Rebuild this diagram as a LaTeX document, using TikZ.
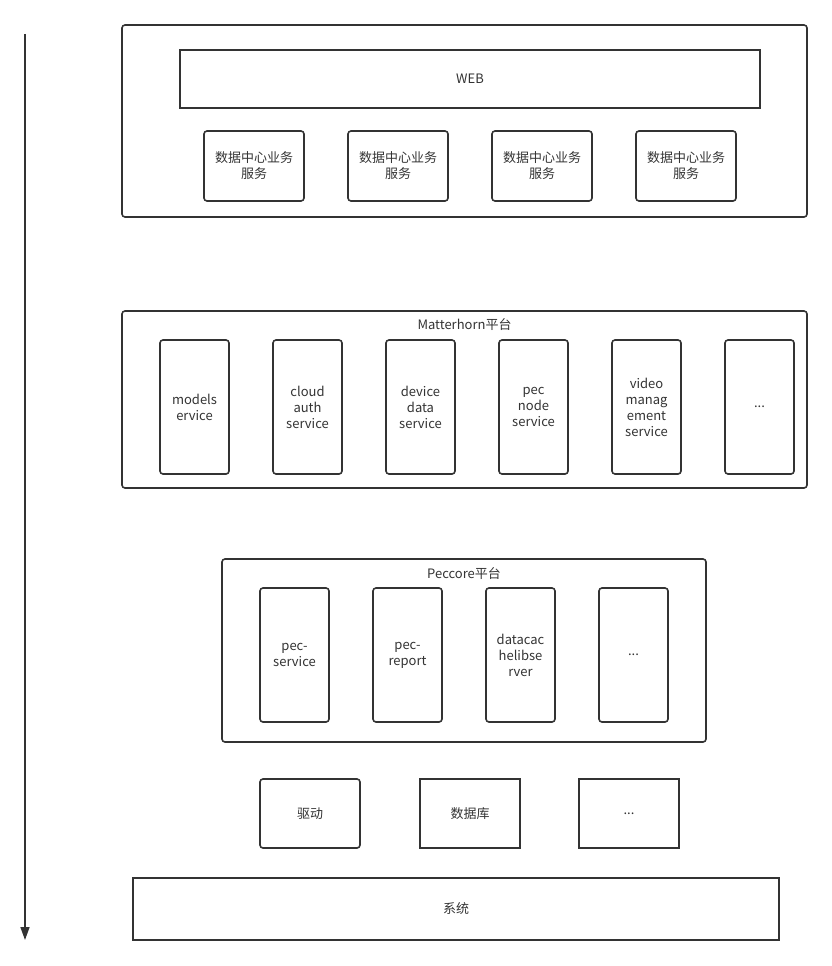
\documentclass[tikz,border=0pt]{standalone}
\usepackage{fontspec}
\setmainfont{Noto Sans CJK SC}
\usetikzlibrary{arrows.meta}

\definecolor{inkgray}{HTML}{333333}

\tikzset{
    layerbox/.style={draw=inkgray, line width=1.6pt, rounded corners=3pt, inner sep=0pt},
    flatbox/.style={draw=inkgray, line width=1.6pt, inner sep=0pt, align=center},
    svcbox/.style={draw=inkgray, line width=1.6pt, rounded corners=3pt, inner sep=0pt, align=center,
        minimum width=100pt, minimum height=70pt},
    tallbox/.style={draw=inkgray, line width=1.6pt, rounded corners=3pt, inner sep=0pt, align=center,
        minimum width=69pt, minimum height=134pt},
    titletext/.style={inner sep=0pt}
}

\begin{document}
\begin{tikzpicture}[x=1pt, y=-1pt, text=inkgray, font=\fontsize{13}{16}\selectfont]
    \useasboundingbox (0,0) rectangle (832,966);

    % Direction arrow on the left
    \coordinate (arrowtop) at (25,34);
    \coordinate (arrowend) at (25,940);
    \draw[inkgray, line width=1.6pt, -{Triangle[width=9pt, length=13pt]}] (arrowtop) -- (arrowend);

    % Top layer: WEB and business services
    \node[layerbox, minimum width=685pt, minimum height=192pt] (toplayer) at (464.5,121) {};
    \node[flatbox, minimum width=580pt, minimum height=58pt] (web) at (470,79) {WEB};
    \node[svcbox] (biz1) at (254,166) {数据中心业务\\服务};
    \node[svcbox] (biz2) at (398,166) {数据中心业务\\服务};
    \node[svcbox] (biz3) at (542,166) {数据中心业务\\服务};
    \node[svcbox] (biz4) at (686,166) {数据中心业务\\服务};

    % Matterhorn platform
    \node[layerbox, minimum width=685pt, minimum height=177pt] (matterhorn) at (464.5,399.5) {};
    \node[titletext] (mtitle) at (464.5,325) {Matterhorn平台};
    \node[tallbox] (models) at (194.5,407) {models\\ervice};
    \node[tallbox] (cloudauth) at (307.5,407) {cloud\\auth\\service};
    \node[tallbox] (devicedata) at (420.5,407) {device\\data\\service};
    \node[tallbox] (pecnode) at (533.5,407) {pec\\node\\service};
    \node[tallbox] (videomgmt) at (646.5,407) {video\\manag\\ement\\service};
    \node[tallbox] (mmore) at (759.5,407) {...};

    % Peccore platform
    \node[layerbox, minimum width=484pt, minimum height=183pt] (peccore) at (464,650.5) {};
    \node[titletext] (ptitle) at (464,574) {Peccore平台};
    \node[tallbox] (pecservice) at (294.5,655) {pec-\\service};
    \node[tallbox] (pecreport) at (407.5,655) {pec-\\report};
    \node[tallbox] (datacache) at (520.5,655) {datacac\\helibse\\rver};
    \node[tallbox] (pmore) at (633.5,655) {...};

    % Drivers, database
    \node[svcbox, minimum height=69pt] (driver) at (310,813.5) {驱动};
    \node[flatbox, minimum width=100pt, minimum height=69pt] (database) at (470,813.5) {数据库};
    \node[flatbox, minimum width=100pt, minimum height=69pt] (bmore) at (629,813.5) {...};

    % System
    \node[flatbox, minimum width=646pt, minimum height=62pt] (system) at (456,909) {系统};
\end{tikzpicture}
\end{document}
